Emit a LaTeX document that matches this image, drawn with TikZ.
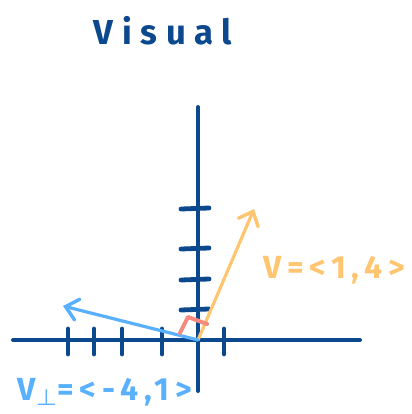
\documentclass[tikz,border=0pt]{standalone}
\usepackage{amsmath,amssymb}
\usepackage{fontspec}
\setmainfont{Fira Sans}
\usepackage{tikz}
\usetikzlibrary{arrows.meta}

\definecolor{axisblue}{RGB}{12,72,142}
\definecolor{vecorange}{RGB}{255,197,112}
\definecolor{perpblue}{RGB}{88,176,255}
\definecolor{marksalmon}{RGB}{247,138,126}

\begin{document}
\begin{tikzpicture}[
  x=0.75pt, y=-0.75pt,
  axis/.style={line width=3pt, axisblue, line cap=round},
  tick/.style={line width=3.6pt, axisblue, line cap=round},
  vec/.style={line width=2.4pt, line cap=round, line join=round,
    -{Straight Barb[length=9pt, width=16pt, line width=2.6pt, line cap=round]}},
  rmark/.style={line width=3pt, marksalmon, line cap=round, line join=round},
  hand/.style={font=\fontsize{24}{26}\selectfont\bfseries\addfontfeatures{LetterSpace=18}, inner sep=0pt}
]
  \useasboundingbox (0,0) rectangle (411,414);

  % axes
  \coordinate (O) at (198,340);
  \coordinate (xl) at (13,340);
  \coordinate (xr) at (360,340);
  \coordinate (yt) at (198,107);
  \coordinate (yb) at (198,391);
  \draw[axis] (xl) -- (xr);
  \draw[axis] (yt) -- (yb);

  % ticks
  \foreach \x in {68,94,122,162,224}
    \draw[tick] (\x,329) -- (\x,354);
  \foreach \y in {208,248,279,309}
    \draw[tick] (181,\y+1) -- (209,\y);

  % vectors
  \coordinate (vtip) at (254,209);
  \coordinate (ptip) at (63,306);
  \draw[vec, vecorange] (O) -- (vtip);
  \draw[vec, perpblue] (O) -- (ptip);

  % right angle
  \coordinate (ra) at (180,333);
  \coordinate (rb) at (188,317);
  \coordinate (rc) at (207,324);
  \draw[rmark] (ra) -- (rb) -- (rc);

  % labels
  \node[hand, axisblue, font=\fontsize{26}{28}\selectfont\bfseries\addfontfeatures{LetterSpace=25}] (title) at (163,31) {Visual};
  \node[hand, vecorange] (vlabel) at (334,270) {V=<1,4>};
  \node[hand, perpblue] (plabel) at (105,392) {V$_{\boldsymbol{\perp}}$=<-4,1>};
\end{tikzpicture}
\end{document}
